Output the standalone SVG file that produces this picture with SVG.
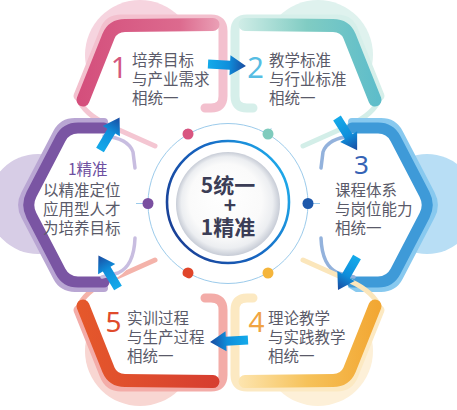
<svg xmlns="http://www.w3.org/2000/svg" width="457" height="410" viewBox="0 0 457 410">
<defs>
<style>
.t{font-family:'Noto Sans CJK SC','Noto Sans',sans-serif;font-size:15.5px;fill:#5a5a69}
.n{font-family:'Noto Sans','Noto Sans CJK SC',sans-serif;text-anchor:middle}
.c{font-family:'Noto Sans CJK SC','Noto Sans',sans-serif;font-size:21px;font-weight:bold;fill:#3b3d56;text-anchor:middle}
.s{fill:none;stroke-linecap:round;stroke-linejoin:round}
.ln{stroke:#9ccbeb;stroke-width:1;fill:none}
</style>
<linearGradient id="g1" gradientUnits="userSpaceOnUse" x1="80" y1="0" x2="222" y2="0"><stop offset="0" stop-color="#d44f7c"/><stop offset="0.7" stop-color="#dc6a8e"/><stop offset="1" stop-color="#eba3b8"/></linearGradient>
<linearGradient id="g2" gradientUnits="userSpaceOnUse" x1="80" y1="0" x2="222" y2="0"><stop offset="0" stop-color="#5ebdca"/><stop offset="0.5" stop-color="#80ccc3"/><stop offset="1" stop-color="#d3eee8"/></linearGradient>
<linearGradient id="g4" gradientUnits="userSpaceOnUse" x1="80" y1="0" x2="222" y2="0"><stop offset="0" stop-color="#f2a733"/><stop offset="0.5" stop-color="#f6c25a"/><stop offset="1" stop-color="#fde6b2"/></linearGradient>
<linearGradient id="g5" gradientUnits="userSpaceOnUse" x1="80" y1="0" x2="222" y2="0"><stop offset="0" stop-color="#e5582b"/><stop offset="1" stop-color="#d63d30"/></linearGradient>
<linearGradient id="ring" x1="0" y1="0.7" x2="1" y2="0.2"><stop offset="0" stop-color="#1a3f95"/><stop offset="0.5" stop-color="#1666c2"/><stop offset="1" stop-color="#1fb0ee"/></linearGradient>
<radialGradient id="disk" cx="0.5" cy="0.5" r="0.5" fx="0.42" fy="0.38"><stop offset="0" stop-color="#ffffff"/><stop offset="0.7" stop-color="#fafafa"/><stop offset="0.88" stop-color="#eceef1"/><stop offset="1" stop-color="#c7ccd6"/></radialGradient>
<linearGradient id="ag" x1="0" y1="0" x2="1" y2="0"><stop offset="0" stop-color="#14aaea"/><stop offset="0.55" stop-color="#0f8edb"/><stop offset="1" stop-color="#1a4a9f"/></linearGradient>
<path id="arr" d="M0,-4.5 L22,-4.5 L22,-10 L38,0 L22,10 L22,4.5 L0,4.5 Z" fill="url(#ag)"/>
</defs>
<rect width="457" height="410" fill="#fff"/>

<g id="center">
<circle cx="228" cy="203.5" r="80" class="ln" stroke="#8fc5e9"/>
<line class="ln" x1="188" y1="134" x2="175.5" y2="112.5"/>
<line class="ln" x1="268" y1="134" x2="280.5" y2="112.5"/>
<line class="ln" x1="308" y1="203.5" x2="323" y2="203.5"/>
<line class="ln" x1="148" y1="203.5" x2="133" y2="203.5"/>
<line class="ln" x1="188" y1="273" x2="175.5" y2="294.5"/>
<line class="ln" x1="268" y1="273" x2="280.5" y2="294.5"/>
<circle cx="228" cy="202" r="61" fill="none" stroke="url(#ring)" stroke-width="2.6"/>
<circle cx="228" cy="204" r="52" fill="url(#disk)"/>
<circle cx="188" cy="134" r="5.5" fill="#d85580"/>
<circle cx="268" cy="134" r="5.5" fill="#7fcbbd"/>
<circle cx="308" cy="203.5" r="5.5" fill="#1d58ab"/>
<circle cx="268" cy="273" r="5.5" fill="#f5b53b"/>
<circle cx="188" cy="273" r="5.5" fill="#e0452a"/>
<circle cx="148" cy="203.5" r="5.5" fill="#7a4fa0"/>
<text class="c" x="228" y="193">5统一</text>
<text class="c" x="230" y="213">+</text>
<text class="c" x="228" y="235">1精准</text>
</g>

<g id="node1">
<g>
<circle cx="140" cy="55" r="55" fill="#f6d4df"/>
<path d="M79,100 L104,31 Q109,19 121,19 L223,19 L223,108 L155,146 Z" fill="#fff"/>
<path class="s" d="M78,96 L104.2,30.6 Q108.7,19 121,19 L211,19 Q223,19 223,31 L223,96 Q223,108 211,108 L205,108" stroke="#f3c0ce" stroke-width="9"/>
<path class="s" d="M78,98 Q84,114 108,125 L155,146" stroke="#f4c6d2" stroke-width="5"/>
<path class="s" d="M83,100 L108.5,36.1 Q113,25.5 125,25.5 L213,24.5" stroke="url(#g1)" stroke-width="13"/>
</g>
<text class="n" x="119" y="78" font-size="29" fill="#d3577f">1</text>
<text class="t"><tspan x="132" y="66">培养目标</tspan><tspan x="132" y="85">与产业需求</tspan><tspan x="132" y="104">相统一</tspan></text>
</g>

<g id="node2">
<g transform="matrix(-1,0,0,1,458,0)">
<circle cx="140" cy="55" r="55" fill="#dff2ee"/>
<path d="M79,100 L104,31 Q109,19 121,19 L223,19 L223,108 L155,146 Z" fill="#fff"/>
<path class="s" d="M78,96 L104.2,30.6 Q108.7,19 121,19 L211,19 Q223,19 223,31 L223,96 Q223,108 211,108 L205,108" stroke="#d6efea" stroke-width="9"/>
<path class="s" d="M78,98 Q84,114 108,125 L155,146" stroke="#d3eee8" stroke-width="5"/>
<path class="s" d="M83,100 L108.5,36.1 Q113,25.5 125,25.5 L213,24.5" stroke="url(#g2)" stroke-width="13"/>
</g>
<text class="n" x="255.5" y="78" font-size="29" fill="#56bde3">2</text>
<text class="t"><tspan x="269" y="66">教学标准</tspan><tspan x="269" y="85">与行业标准</tspan><tspan x="269" y="104">相统一</tspan></text>
</g>

<g id="node3">
<g>
<circle cx="427" cy="204" r="50" fill="#b8def5"/>
<path d="M352,128 L390,128 L430,205 L390,282 L352,282 L338,277 Q322,268 320,238 L320,168 Q322,140 338,135 Z" fill="#fff"/>
<path class="s" d="M352,122 L381,122 Q393.6,122 399.2,133 L431,194 Q436.8,205 431,216 L399.2,277 Q393.6,288 381,288 L352,288" stroke="#88c9ef" stroke-width="8"/>
<path class="s" d="M352,128 L378,128 Q390,128 395.5,138.6 L424.5,194.4 Q430,205 424.5,215.6 L395.5,271.4 Q390,282 378,282 L352,282" stroke="#3e9ad8" stroke-width="11"/>
<path class="s" d="M352,136 Q328,138 323,152 L321,168" stroke="#93b2dc" stroke-width="3.5"/>
<path class="s" d="M321,238 Q322,266 338,273 L354,277" stroke="#93b2dc" stroke-width="3.5"/>
</g>
<text class="n" x="361.5" y="173.5" font-size="26" fill="#3563b5">3</text>
<text class="t"><tspan x="335" y="196">课程体系</tspan><tspan x="335" y="215">与岗位能力</tspan><tspan x="335" y="234">相统一</tspan></text>
</g>

<g id="node4">
<g transform="matrix(-1,0,0,-1,458,406)">
<circle cx="140" cy="55" r="55" fill="#fdf0d8"/>
<path d="M79,100 L104,31 Q109,19 121,19 L223,19 L223,108 L155,146 Z" fill="#fff"/>
<path class="s" d="M78,96 L104.2,30.6 Q108.7,19 121,19 L211,19 Q223,19 223,31 L223,96 Q223,108 211,108 L205,108" stroke="#fce9c2" stroke-width="9"/>
<path class="s" d="M78,98 Q84,114 108,125 L155,146" stroke="#fbe6bb" stroke-width="5"/>
<path class="s" d="M83,100 L108.5,36.1 Q113,25.5 125,25.5 L213,24.5" stroke="url(#g4)" stroke-width="13"/>
</g>
<text class="n" x="256.5" y="332" font-size="28" fill="#f0a443">4</text>
<text class="t"><tspan x="268" y="324">理论教学</tspan><tspan x="268" y="343">与实践教学</tspan><tspan x="268" y="362">相统一</tspan></text>
</g>

<g id="node5">
<g transform="matrix(1,0,0,-1,0,406)">
<circle cx="140" cy="55" r="55" fill="#f8d6d2"/>
<path d="M79,100 L104,31 Q109,19 121,19 L223,19 L223,108 L155,146 Z" fill="#fff"/>
<path class="s" d="M78,96 L104.2,30.6 Q108.7,19 121,19 L211,19 Q223,19 223,31 L223,96 Q223,108 211,108 L205,108" stroke="#f3aca8" stroke-width="9"/>
<path class="s" d="M78,98 Q84,114 108,125 L155,146" stroke="#f4b3aa" stroke-width="5"/>
<path class="s" d="M83,100 L108.5,36.1 Q113,25.5 125,25.5 L213,24.5" stroke="url(#g5)" stroke-width="13"/>
</g>
<text class="n" x="113.5" y="332" font-size="28" fill="#e04b2b">5</text>
<text class="t"><tspan x="127" y="324">实训过程</tspan><tspan x="127" y="343">与生产过程</tspan><tspan x="127" y="362">相统一</tspan></text>
</g>

<g id="node6">
<g transform="matrix(-1,0,0,1,456,0)">
<circle cx="418" cy="204" r="50" fill="#d7cde6"/>
<path d="M352,128 L390,128 L430,205 L390,282 L352,282 L338,277 Q322,268 320,238 L320,168 Q322,140 338,135 Z" fill="#fff"/>
<path class="s" d="M352,122 L381,122 Q393.6,122 399.2,133 L431,194 Q436.8,205 431,216 L399.2,277 Q393.6,288 381,288 L352,288" stroke="#b9a6d3" stroke-width="8"/>
<path class="s" d="M352,128 L378,128 Q390,128 395.5,138.6 L424.5,194.4 Q430,205 424.5,215.6 L395.5,271.4 Q390,282 378,282 L352,282" stroke="#7a55a3" stroke-width="11"/>
<path class="s" d="M352,136 Q328,138 323,152 L321,168" stroke="#c8bde0" stroke-width="3.5"/>
<path class="s" d="M321,238 Q322,266 338,273 L354,277" stroke="#c8bde0" stroke-width="3.5"/>
</g>
<text x="68" y="175" style="font-family:'Noto Sans CJK SC','Noto Sans',sans-serif;font-size:15.5px;fill:#6d4f9f">1精准</text>
<text class="t"><tspan x="43" y="196">以精准定位</tspan><tspan x="43" y="215">应用型人才</tspan><tspan x="43" y="234">为培养目标</tspan></text>
</g>

<g id="connectors">
<use href="#arr" transform="translate(208,64) rotate(3)"/>
<use href="#arr" transform="translate(337,118) rotate(58)"/>
<use href="#arr" transform="translate(357,257) rotate(120)"/>
<use href="#arr" transform="translate(248,340) rotate(177)"/>
<use href="#arr" transform="translate(118,288) rotate(-121)"/>
<use href="#arr" transform="translate(100,150) rotate(-59)"/>
</g>
</svg>
